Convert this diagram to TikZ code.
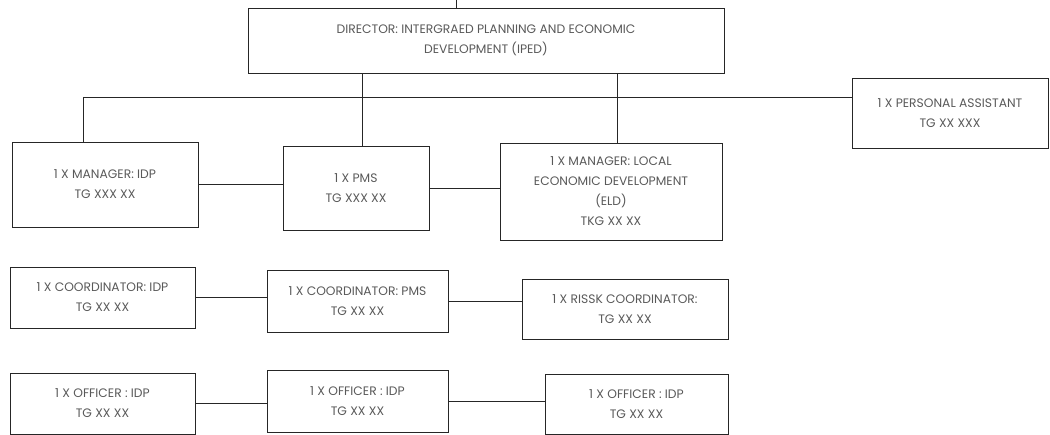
\documentclass[tikz,border=0pt]{standalone}
\usepackage{fontspec}
\setmainfont{Poppins}
\begin{document}
\begin{tikzpicture}[x=1pt,y=-1pt,
  post/.style={draw=black!85,line width=0.9pt,align=center,inner sep=2pt,
    font=\fontsize{12.3}{20}\selectfont,text=black!65},
  link/.style={draw=black!85,line width=0.9pt}]
\useasboundingbox (0,0) rectangle (1050,435);

% director and assistant
\node[post,minimum width=476pt,minimum height=65pt] (dir) at (486,40.5)
  {DIRECTOR: INTERGRAED PLANNING AND ECONOMIC\\DEVELOPMENT (IPED)};
\node[post,minimum width=196pt,minimum height=70pt] (pa) at (950,113)
  {1 X PERSONAL ASSISTANT\\TG XX XXX};

% managers
\node[post,minimum width=186pt,minimum height=85pt] (mgr) at (105,184.5)
  {1 X MANAGER: IDP\\TG XXX XX};
\node[post,minimum width=146pt,minimum height=84pt] (pms) at (356,188)
  {1 X PMS\\TG XXX XX};
\node[post,minimum width=222pt,minimum height=97pt] (led) at (611,191.5)
  {1 X MANAGER: LOCAL\\ECONOMIC DEVELOPMENT\\(ELD)\\TKG XX XX};

% coordinators
\node[post,minimum width=185pt,minimum height=61pt] (cidp) at (102.5,297.5)
  {1 X COORDINATOR: IDP\\TG XX XX};
\node[post,minimum width=181pt,minimum height=62pt] (cpms) at (357.5,301)
  {1 X COORDINATOR: PMS\\TG XX XX};
\node[post,minimum width=206pt,minimum height=60pt] (risk) at (625,309)
  {1 X RISSK COORDINATOR:\\TG XX XX};

% officers
\node[post,minimum width=185pt,minimum height=61pt] (off1) at (102.5,403.5)
  {1 X OFFICER : IDP\\TG XX XX};
\node[post,minimum width=181pt,minimum height=62pt] (off2) at (357.5,401)
  {1 X OFFICER : IDP\\TG XX XX};
\node[post,minimum width=183pt,minimum height=60pt] (off3) at (636.5,404)
  {1 X OFFICER : IDP\\TG XX XX};

% reporting lines
\coordinate (top) at (456,0);
\coordinate (busL) at (83,97);
\draw[link] (top) -- (dir.north -| top);
\draw[link] (busL) -- (pa.west |- busL);
\draw[link] (busL) -- (mgr.north -| busL);
\draw[link] (dir.south -| 362,0) -- (pms.north -| 362,0);
\draw[link] (dir.south -| 617,0) -- (led.north -| 617,0);

% links within each row
\draw[link] (mgr.east) -- (pms.west |- mgr.east);
\draw[link] (pms.east) -- (led.west |- pms.east);
\draw[link] (cidp.east) -- (cpms.west |- cidp.east);
\draw[link] (cpms.east) -- (risk.west |- cpms.east);
\draw[link] (off1.east) -- (off2.west |- off1.east);
\draw[link] (off2.east) -- (off3.west |- off2.east);
\end{tikzpicture}
\end{document}
